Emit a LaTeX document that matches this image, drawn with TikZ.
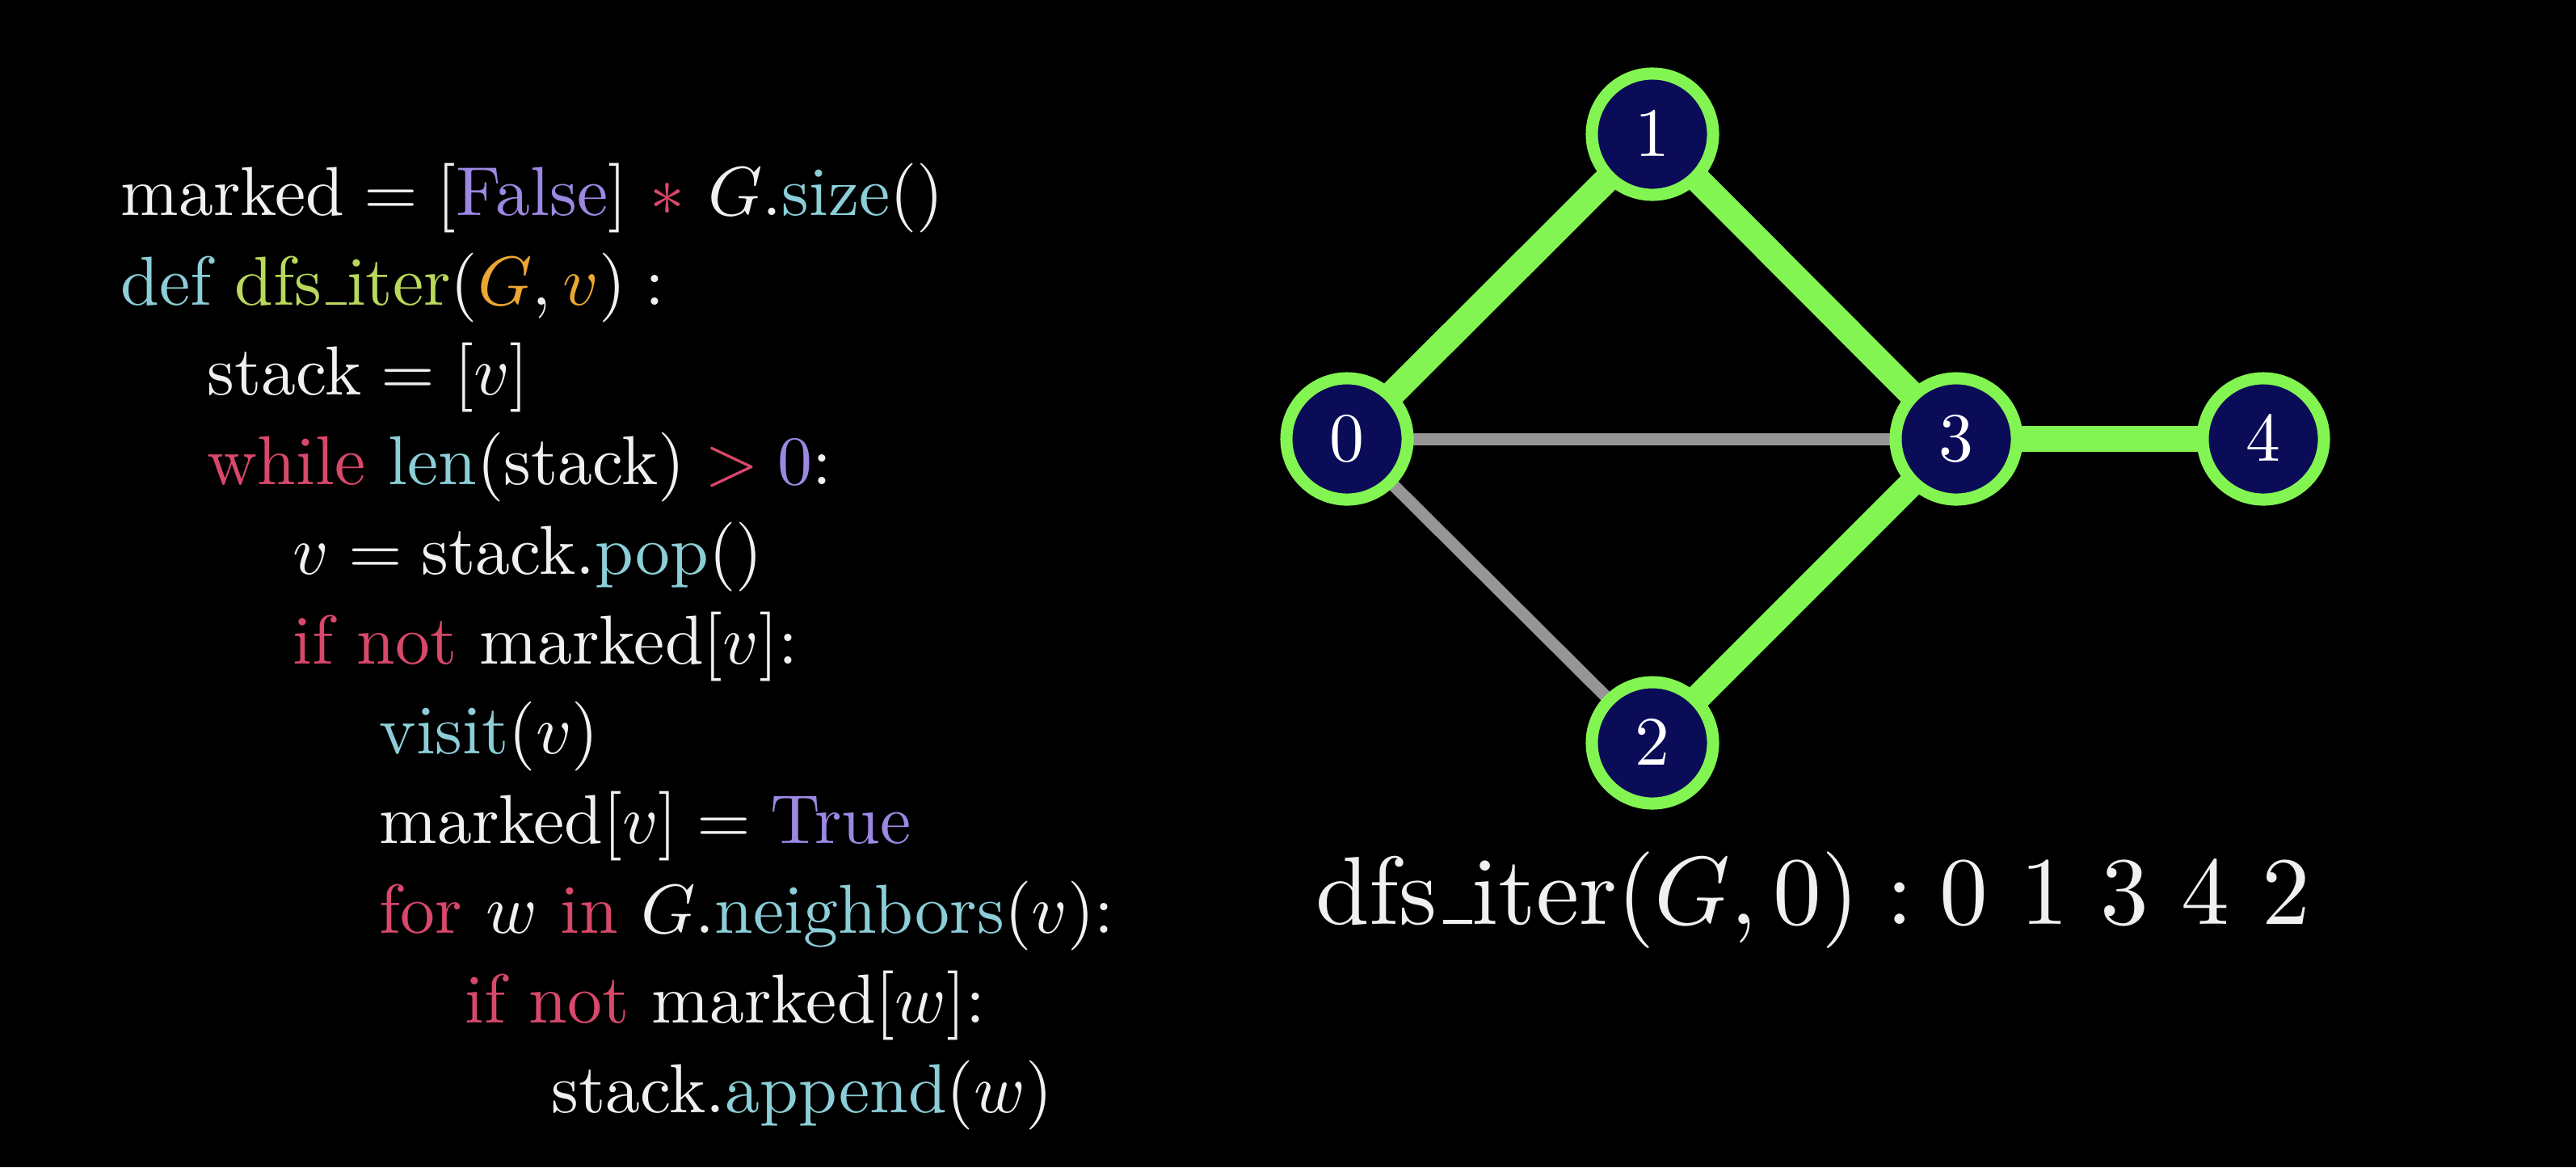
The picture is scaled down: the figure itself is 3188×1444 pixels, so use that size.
\documentclass[tikz,border=0pt]{standalone}
\usepackage{amsmath}
\usepackage{xcolor}
\usepackage{graphicx}
\usepackage{tikz}
\usetikzlibrary{positioning}

\definecolor{codewhite}{RGB}{240,240,240}
\definecolor{codered}{RGB}{216,72,106}
\definecolor{codecyan}{RGB}{140,206,216}
\definecolor{codepurple}{RGB}{156,136,226}
\definecolor{codeyellow}{RGB}{186,216,92}
\definecolor{codeorange}{RGB}{236,166,52}
\definecolor{vgreen}{RGB}{131,245,82}
\definecolor{vnavy}{RGB}{10,12,88}
\definecolor{egray}{RGB}{150,150,150}

\newcommand{\kw}[1]{\text{\color{codered}#1}}
\newcommand{\fn}[1]{\text{\color{codecyan}#1}}
\newcommand{\cst}[1]{\text{\color{codepurple}#1}}
\newcommand{\usc}{\kern.06em\vbox{\hrule width.3em}}
\newcommand{\vnum}[1]{\scalebox{2.44}{$#1$}}

\pgfdeclarelayer{background}
\pgfsetlayers{background,main}

\begin{document}
\begin{tikzpicture}[
    x=0.01cm, y=-0.01cm,
    codeline/.style={anchor=base west, inner sep=0pt, text=codewhite, scale=2.44},
    vertex/.style={circle, draw=vgreen, line width=1.5mm, fill=vnavy, minimum size=15mm, inner sep=0pt, text=white},
    tree/.style={draw=vgreen, line width=3.2mm},
    plain/.style={draw=egray, line width=1.5mm},
]
\useasboundingbox (0,0) rectangle (3188,1444);

% Code listing
\node[codeline] (l1) at (148,266) {$\text{marked} = [\cst{False}] \mkern2mu\mathbin{\color{codered}\ast}\mkern2mu G.\fn{size}()$};
\node[codeline] (l2) at (148,377) {$\fn{def}\ \text{\color{codeyellow}dfs\usc iter}({\color{codeorange}G}, {\color{codeorange}v}) :$};
\node[codeline] (l3) at (255,488) {$\text{stack} = [v]$};
\node[codeline] (l4) at (255,599) {$\kw{while}\ \fn{len}(\text{stack}) \mathrel{\color{codered}>} {\color{codepurple}0}\text{:}$};
\node[codeline] (l5) at (361,710) {$v = \text{stack.}\fn{pop}()$};
\node[codeline] (l6) at (361,821) {$\kw{if not}\ \text{marked}[v]\text{:}$};
\node[codeline] (l7) at (468,932) {$\fn{visit}(v)$};
\node[codeline] (l8) at (468,1043) {$\text{marked}[v] = \cst{True}$};
\node[codeline] (l9) at (468,1154) {$\kw{for}\ w\ \kw{in}\ G.\fn{neighbors}(v)\text{:}$};
\node[codeline] (l10) at (574,1265) {$\kw{if not}\ \text{marked}[w]\text{:}$};
\node[codeline] (l11) at (681,1376) {$\text{stack.}\fn{append}(w)$};

% Graph
\node[vertex] (v0) at (1667,543) {\vnum{0}};
\node[vertex] (v1) at (2045,166) {\vnum{1}};
\node[vertex] (v2) at (2045,919) {\vnum{2}};
\node[vertex] (v3) at (2421,543) {\vnum{3}};
\node[vertex] (v4) at (2801,543) {\vnum{4}};

\begin{pgfonlayer}{background}
\fill[black] (0,0) rectangle (3188,1444);
\draw[plain] (v0.center) -- (v3.center);
\draw[plain] (v0.center) -- (v2.center);
\draw[tree] (v0.center) -- (v1.center);
\draw[tree] (v1.center) -- (v3.center);
\draw[tree] (v2.center) -- (v3.center);
\draw[tree] (v3.center) -- (v4.center);
\end{pgfonlayer}

% Traversal order
\node[codeline, scale=3.4/2.44] (order) at (1626,1143) {$\text{dfs\usc iter}(G, 0) : 0\ 1\ 3\ 4\ 2$};
\end{tikzpicture}
\end{document}
